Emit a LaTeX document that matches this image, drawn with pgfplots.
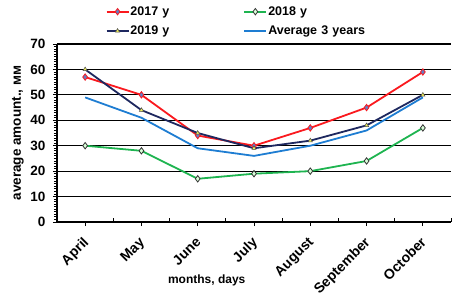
\documentclass[border=0pt]{standalone}
\usepackage{fontspec}
\setmainfont{Liberation Sans}
\usepackage{pgfplots}
\pgfplotsset{compat=1.18}
\definecolor{cRed}{RGB}{250,25,30}
\definecolor{cGreen}{RGB}{30,180,80}
\definecolor{cNavy}{RGB}{30,40,95}
\definecolor{cBlue}{RGB}{30,125,210}
\definecolor{cMark}{RGB}{100,125,195}
\definecolor{cYel}{RGB}{240,240,90}
\begin{document}
\begin{tikzpicture}
\useasboundingbox (-57pt,-78pt) rectangle (397pt,222pt);
\begin{axis}[
  scale only axis,
  width=394pt, height=178pt,
  xmin=-0.5, xmax=6.5, ymin=0, ymax=70,
  axis x line=bottom, axis y line=left,
  axis line style={-, line width=1.4pt, black},
  xtick={0,...,6},
  xticklabels={April,May,June,July,August,September,October},
  x tick label style={xshift=-3pt, yshift=-10pt, rotate=45, anchor=north east, font=\bfseries\fontsize{14}{15}\selectfont, inner sep=0pt},
  extra x ticks={0.5,1.5,2.5,3.5,4.5,5.5,6.5},
  extra x tick labels={},
  extra x tick style={grid=none, tick align=inside, major tick length=4pt},
  ytick={0,10,...,70},
  minor y tick num=9,
  ymajorgrids,
  major grid style={black, line width=1.1pt},
  tick align=outside,
  tick style={black, line width=0.9pt},
  major tick length=4pt, minor tick length=3pt,
  y tick label style={font=\bfseries\fontsize{13.5}{14}\selectfont, xshift=-4pt},
  /pgf/number format/assume math mode=true,
  xlabel={months, days},
  xlabel style={font=\bfseries\fontsize{12}{13}\selectfont, at={(axis description cs:0.38,-0.326)}, anchor=center},
  ylabel={average amount., мм},
  ylabel style={font=\bfseries\fontsize{13.5}{14}\selectfont, at={(axis description cs:-0.099,0.5)}, anchor=center},
  legend columns=2,
  legend style={draw=none, fill=none, at={(axis description cs:0.123,1.217)}, anchor=north west,
    font=\bfseries\fontsize{12.5}{13}\selectfont, inner sep=0pt,
    nodes={text width=112pt, inner sep=1pt},
    row sep=7pt},
  legend cell align=left,
  legend image code/.code={
    \draw[mark repeat=2, mark phase=2, #1] plot coordinates {(0pt,0pt) (11pt,0pt) (22pt,0pt)};
  },
  clip=false,
]
\addplot[cRed, line width=1.8pt, mark=diamond*, mark size=3.2pt, mark options={fill=cMark, draw=cRed, line width=0.8pt}]
  coordinates {(0,57) (1,50) (2,34) (3,30) (4,37) (5,45) (6,59)};
\addlegendentry{2017 y}
\addplot[cGreen, line width=1.8pt, mark=diamond*, mark size=3.2pt, mark options={fill=white!85!green, draw=black!80, line width=0.8pt}]
  coordinates {(0,30) (1,28) (2,17) (3,19) (4,20) (5,24) (6,37)};
\addlegendentry{2018 y}
\addplot[cNavy, line width=1.8pt, mark=triangle*, mark size=2.4pt, mark options={fill=cYel, draw=black!70, line width=0.5pt}]
  coordinates {(0,60) (1,44) (2,35) (3,29) (4,32) (5,38) (6,50)};
\addlegendentry{2019 y}
\addplot[cBlue, line width=1.8pt, no markers]
  coordinates {(0,49) (1,41) (2,29) (3,26) (4,30) (5,36) (6,49)};
\addlegendentry{Average 3 years}
\end{axis}
\end{tikzpicture}
\end{document}
